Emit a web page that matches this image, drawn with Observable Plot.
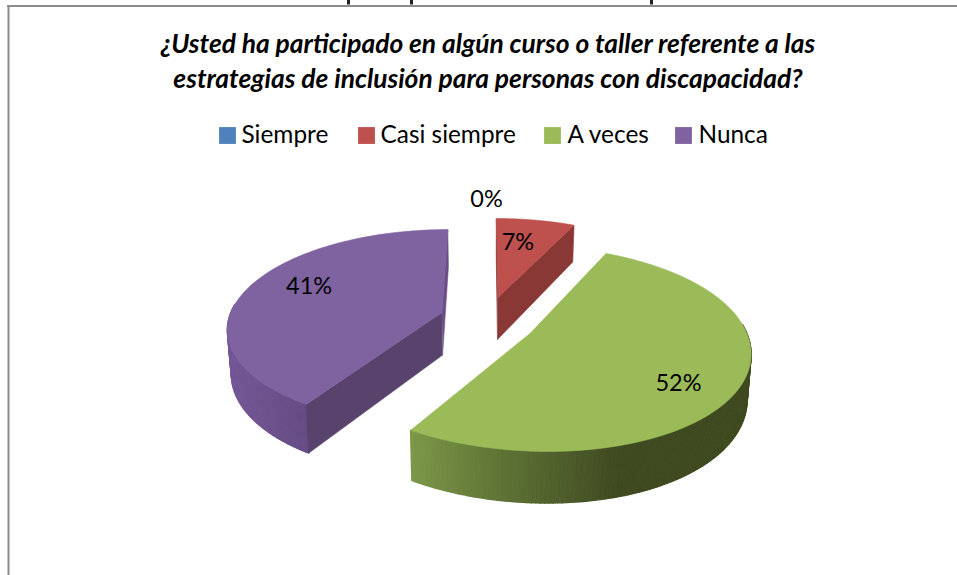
<!DOCTYPE html>
<html><head><meta charset="utf-8">
<script src="https://cdn.jsdelivr.net/npm/d3@7"></script>
<script src="https://cdn.jsdelivr.net/npm/@observablehq/plot@0.6"></script>
<style>html,body{margin:0;padding:0;background:#fff;overflow:hidden}svg{display:block}</style>
</head><body><div id="chart"></div>
<script>
const categories = ["Siempre", "Casi siempre", "A veces", "Nunca"];
const values = [0, 7, 52, 41];
const colors = ["#4F81BD", "#BE504D", "#9BBB59", "#7F63A1"];
const titleLines = ["¿Usted ha participado en algún curso o taller referente a las",
                    "estrategias de inclusión para personas con discapacidad?"];

// 3D pie view
const view = {x0: 487, y0: 318, a: 213, b: 97, k: 0.15, h: 43, c: 0.015, explode: 0.225};
const drop = [0, 0, 4, 0];               // per-slice vertical nudge
const skew = [0, 0, 8, 0];               // per-slice near-side lean
const labelR = [1.5, 0.5, 0.72, 0.68];
const labelDy = [0, -14, 14, -8];
const labelDx = [-1, 0, 0, 0];

const rad = d => d * Math.PI / 180;
const total = d3.sum(values);
let acc = 0;
const slices = values.map((v, i) => {
  const t0 = acc / total * 360; acc += v;
  const t1 = acc / total * 360;
  return {i, t0, t1, mid: (t0 + t1) / 2, name: categories[i], value: v, color: colors[i]};
});
function project(s, t, r, lower) {
  const e = s.value ? view.explode : 0;
  const U = e * Math.sin(rad(s.mid)) + r * Math.sin(rad(t));
  const V = e * Math.cos(rad(s.mid)) + r * Math.cos(rad(t));
  const w = 1 + view.k * V;
  const q = lower ? 1 - view.c : 1;
  return {
    x: view.x0 + view.a * U / w * q + (V < 0 ? skew[s.i] * V * V : 0),
    y: view.y0 + drop[s.i] - view.b * V / w + (lower ? view.h / w : 0)
  };
}
const faces = [];
function addFace(id, fill, pts, sw = 0.6) { pts.forEach(p => faces.push({face: id, fill, sw, x: p.x, y: p.y})); }
function range(a, b, n = 90) { return d3.range(n + 1).map(j => a + (b - a) * j / n); }
function topFace(s) {
  addFace("top" + s.i, s.color, [project(s, 0, 0), ...range(s.t0, s.t1).map(t => project(s, t, 1)), project(s, 0, 0)]);
}
function radial(s, t, fill, tag) {
  addFace("rad" + s.i + tag, fill, [project(s, 0, 0), project(s, t, 1), project(s, t, 1, true), project(s, 0, 0, true)]);
}
function rim(s, a, b, col) {
  const n = Math.ceil(Math.abs(b - a));
  d3.range(n).forEach(j => {
    const u = a + (b - a) * j / n, v = a + (b - a) * (j + 1) / n;
    addFace("rim" + s.i + "-" + j, col(project(s, (u + v) / 2, 1).x),
      [project(s, u, 1), project(s, v, 1), project(s, v, 1, true), project(s, u, 1, true)], 1.4);
  });
}
const [, red, green, purple] = slices;
// purple
radial(purple, purple.t1, "#6A4F87", "b");
rim(purple, 275, purple.t0, d3.scaleLinear().domain([227, 305]).range(["#745797", "#664C84"]).clamp(true));
radial(purple, purple.t0, "#58436D", "a");
topFace(purple);
// red
radial(red, red.t0, "#7A3230", "a");
radial(red, red.t1, "#8A3836", "b");
topFace(red);
// green
rim(green, 85, green.t1, d3.scaleLinear().domain([411, 500, 620]).range(["#7C9748", "#5F7336", "#3F4A20"]).clamp(true));
topFace(green);

const labels = slices.map(s => {
  const p = project(s, s.mid, labelR[s.i]);
  return {text: s.value + "%", x: p.x + labelDx[s.i], y: p.y + labelDy[s.i]};
});

// legend and frame
const legendSwatchX = [227, 366, 552, 683];
const legendTextX = [241, 380, 567, 698];
const legendY = 135;
const legend = categories.map((c, i) => ({c, sx: legendSwatchX[i], tx: legendTextX[i], color: colors[i]}));
const cutDescenders = [348, 411, 651];
const font = "Lato, Carlito, sans-serif";

const chart = Plot.plot({
  width: 957, height: 575, margin: 0,
  style: {background: "#fff", fontFamily: font, color: "#000"},
  x: {domain: [0, 957], range: [0, 957], axis: null},
  y: {domain: [0, 575], range: [0, 575], axis: null},
  color: {type: "identity"},
  marks: [
    Plot.ruleY([5.5], {x1: 7, x2: 957, stroke: "#8c8c8c", strokeWidth: 2}),
    Plot.ruleX([8], {y1: 5, y2: 575, stroke: "#8c8c8c", strokeWidth: 2}),
    Plot.ruleX(cutDescenders, {y1: 0, y2: 4.5, stroke: "#222", strokeWidth: 3}),
    Plot.line(faces, {x: "x", y: "y", z: "face", fill: "fill", stroke: "fill", strokeWidth: "sw", curve: "linear"}),
    Plot.text(titleLines, {
      x: () => 487.5, y: (d, i) => [44, 79][i], text: d => d,
      fontSize: 26.4, fontWeight: 700, fontStyle: "italic", fill: "#000", lineAnchor: "middle"
    }),
    Plot.dot(legend, {x: "sx", y: () => legendY, symbol: "square", r: 9.5, fill: "color", stroke: "none"}),
    Plot.text(legend, {x: "tx", y: () => legendY, text: "c", textAnchor: "start", fontSize: 24.4, fill: "#000", lineAnchor: "middle"}),
    Plot.text(labels, {x: "x", y: "y", text: "text", fontSize: 23.5, fill: "#000", lineAnchor: "middle"})
  ]
});
document.getElementById("chart").append(chart);
</script></body></html>
